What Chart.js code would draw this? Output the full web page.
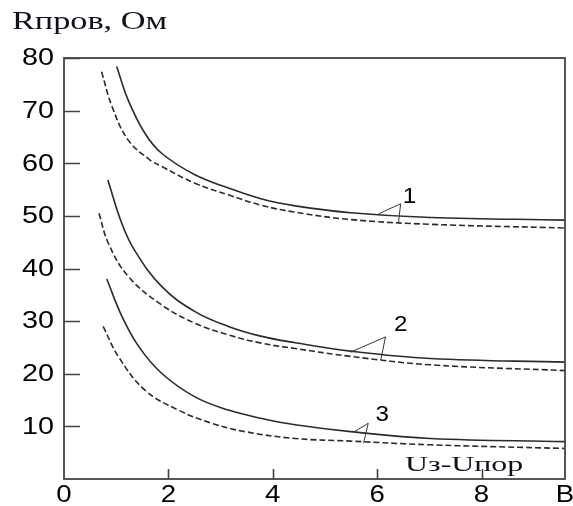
<!DOCTYPE html>
<html>
<head>
<meta charset="utf-8">
<script src="https://cdn.jsdelivr.net/npm/chart.js@4/dist/chart.umd.min.js"></script>
<style>
    html, body { margin: 0; padding: 0; background: #fff; }
    #wrap { width: 573px; height: 506px; position: relative; }
</style>
</head>
<body>
<div id="wrap"><canvas id="chart"></canvas></div>
<script>
// значения кривых
const x1Solid = [1.01, 1.23, 1.55, 1.87, 2.51, 3.15, 3.79, 4.43, 5.49, 7.02, 9.6];
const y1Solid = [78.4, 72.0, 65.7, 61.9, 57.8, 55.3, 53.2, 51.9, 50.6, 49.7, 49.2];
const x1Dash  = [0.72, 0.92, 1.23, 1.65, 1.87, 2.51, 3.15, 3.79, 4.43, 5.49, 7.02, 9.6];
const y1Dash  = [77.4, 70.8, 64.4, 60.6, 59.4, 56.2, 54.0, 52.0, 50.7, 49.3, 48.4, 47.7];

const x2Solid = [0.84, 1.11, 1.35, 1.87, 2.51, 3.15, 3.79, 4.43, 5.49, 7.02, 9.6];
const y2Solid = [56.8, 48.5, 43.5, 36.6, 31.8, 29.0, 27.1, 25.9, 24.3, 22.9, 22.2];
const x2Dash  = [0.67, 0.85, 1.23, 1.87, 2.51, 3.15, 3.79, 4.43, 5.49, 7.02, 9.6];
const y2Dash  = [50.5, 44.8, 38.5, 33.1, 29.6, 27.4, 25.8, 24.8, 23.3, 21.7, 20.6];

const x3Solid = [0.82, 1.11, 1.43, 1.87, 2.51, 3.15, 3.79, 4.43, 5.49, 7.02, 9.6];
const y3Solid = [38.0, 30.9, 25.2, 20.1, 15.6, 13.1, 11.5, 10.3, 9.0, 7.7, 7.1];
const x3Dash  = [0.75, 1.04, 1.55, 2.19, 2.83, 3.47, 4.43, 5.49, 7.02, 9.6];
const y3Dash  = [29.0, 23.3, 16.9, 13.1, 10.6, 9.0, 7.7, 7.2, 6.5, 5.8];

// оси
const xMax = 9.6;
const yMax = 80;
const yTicks = [10, 20, 30, 40, 50, 60, 70, 80];
const xTickMarks = [2, 4, 6, 8];
const xLabelValues = [0, 2, 4, 6, 8, 9.6];
const xLabels = ['0', '2', '4', '6', '8', 'B'];

// выноски с номерами кривых: [точка на сплошной, вершина, точка на пунктире, подпись]
const curveNames = ['1', '2', '3'];
const leaderSolid = [[6.03, 50.4], [5.49, 24.1], [5.55, 8.9]];
const leaderApex  = [[6.45, 52.3], [6.16, 27.0], [5.83, 10.6]];
const leaderFoot  = [[6.41, 48.7], [6.07, 22.6], [5.74, 6.8]];
const nameAt      = [[6.62, 53.6], [6.45, 29.3], [6.1, 12.2]];

const yTitle = 'Rпров, Ом';
const xTitle = 'Uз-Uпор';

function pts(xs, ys) {
    return xs.map((x, i) => ({ x: x, y: ys[i] }));
}

function line(xs, ys, dashed) {
    return {
        data: pts(xs, ys),
        borderColor: '#2a2a2a',
        borderWidth: 1.6,
        borderDash: dashed ? [6, 3] : [],
        pointRadius: 0,
        fill: false,
        tension: 0.4
    };
}

// текст с горизонтальным растяжением (картинка растянута по ширине)
function wideText(ctx, text, x, y, font, align, sx) {
    ctx.save();
    ctx.font = font;
    const w = ctx.measureText(text).width * sx;
    let left = x;
    if (align === 'center') left = x - w / 2;
    if (align === 'right') left = x - w;
    ctx.translate(left, y);
    ctx.scale(sx, 1);
    ctx.textAlign = 'left';
    ctx.fillText(text, 0, 0);
    ctx.restore();
}

const framePlugin = {
    id: 'frame',
    afterDraw(chart) {
        const ctx = chart.ctx;
        const a = chart.chartArea;
        const xs = chart.scales.x;
        const ys = chart.scales.y;

        ctx.save();
        // рамка
        ctx.strokeStyle = '#444';
        ctx.lineWidth = 1.8;
        ctx.strokeRect(a.left, a.top, a.right - a.left, a.bottom - a.top);

        // засечки внутрь
        ctx.lineWidth = 1.6;
        ctx.beginPath();
        yTicks.forEach(v => {
            const py = Math.round(ys.getPixelForValue(v)) + 0.5;
            ctx.moveTo(a.left, py);
            ctx.lineTo(a.left + 16, py);
        });
        xTickMarks.forEach(v => {
            const px = Math.round(xs.getPixelForValue(v)) + 0.5;
            ctx.moveTo(px, a.bottom);
            ctx.lineTo(px, a.bottom - 10);
        });
        ctx.stroke();

        // подписи делений
        ctx.fillStyle = '#000';
        ctx.textBaseline = 'middle';
        yTicks.forEach(v => {
            wideText(ctx, String(v), a.left - 10, ys.getPixelForValue(v) + 1, '23px "Liberation Sans", Arial', 'right', 1.25);
        });
        xLabelValues.forEach((v, i) => {
            wideText(ctx, xLabels[i], xs.getPixelForValue(v), a.bottom + 17, '23px "Liberation Sans", Arial', 'center', 1.2);
        });

        // выноски
        ctx.strokeStyle = '#333';
        ctx.lineWidth = 1;
        ctx.beginPath();
        leaderSolid.forEach((p, i) => {
            ctx.moveTo(xs.getPixelForValue(p[0]), ys.getPixelForValue(p[1]));
            ctx.lineTo(xs.getPixelForValue(leaderApex[i][0]), ys.getPixelForValue(leaderApex[i][1]));
            ctx.lineTo(xs.getPixelForValue(leaderFoot[i][0]), ys.getPixelForValue(leaderFoot[i][1]));
        });
        ctx.stroke();
        ctx.textBaseline = 'middle';
        nameAt.forEach((p, i) => {
            wideText(ctx, curveNames[i], xs.getPixelForValue(p[0]), ys.getPixelForValue(p[1]), '22px "Liberation Sans", Arial', 'center', 1.1);
        });

        // названия осей
        ctx.textBaseline = 'alphabetic';
        ctx.fillStyle = '#10101a';
        wideText(ctx, yTitle, 12, 29, '25px "Liberation Serif", "Times New Roman"', 'left', 1.37);
        wideText(ctx, xTitle, 405, 471, '22px "Liberation Serif", "Times New Roman"', 'left', 1.45);
        ctx.restore();
    }
};

const ctx = document.getElementById('chart').getContext('2d');
const chart = new Chart(ctx, {
    type: 'line',
    data: {
        datasets: [
            line(x1Solid, y1Solid, false),
            line(x1Dash, y1Dash, true),
            line(x2Solid, y2Solid, false),
            line(x2Dash, y2Dash, true),
            line(x3Solid, y3Solid, false),
            line(x3Dash, y3Dash, true)
        ]
    },
    options: {
        responsive: true,
        maintainAspectRatio: false,
        animation: false,
        layout: { padding: { top: 58, right: 8, left: 0, bottom: 0 } },
        plugins: {
            legend: { display: false },
            tooltip: { enabled: false }
        },
        scales: {
            x: {
                type: 'linear',
                min: 0,
                max: xMax,
                ticks: { display: false },
                grid: { display: false },
                border: { display: false },
                afterFit(s) { s.height = 27; }
            },
            y: {
                type: 'linear',
                min: 0,
                max: yMax,
                ticks: { display: false },
                grid: { display: false },
                border: { display: false },
                afterFit(s) { s.width = 64; }
            }
        }
    },
    plugins: [framePlugin]
});
</script>
</body>
</html>
